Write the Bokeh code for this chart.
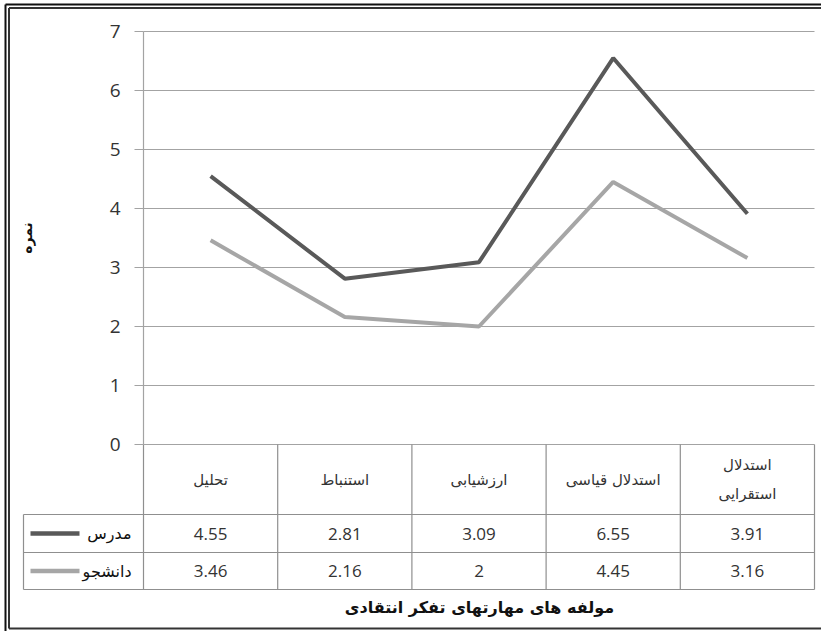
from bokeh.plotting import figure
from bokeh.models import LinearAxis, FixedTicker, Range1d
from bokeh.core.properties import value
from bokeh.embed import file_html
from bokeh.resources import INLINE

# ---- data ----
categories = ["تحلیل", "استنباط", "ارزشیابی", "استدلال قیاسی", "استدلال\nاستقرایی"]
series_names = ["مدرس", "دانشجو"]
teacher = [4.55, 2.81, 3.09, 6.55, 3.91]
student = [3.46, 2.16, 2, 4.45, 3.16]
teacher_labels = ["4.55", "2.81", "3.09", "6.55", "3.91"]
student_labels = ["3.46", "2.16", "2", "4.45", "3.16"]
y_ticks = [0, 1, 2, 3, 4, 5, 6, 7]
y_title = "نمره"
x_title = "مولفه های مهارتهای تفکر انتقادی"

# ---- styling / layout ----
DARK = "#595959"
LIGHT = "#a6a6a6"
GRID = "#a3a3a3"
TABLE = "#8f8f8f"
TEXT = "#333333"
AR_FONT = value("DejaVu Sans")
NUM_FONT = value("Open Sans")

W, H = 821, 631
PX = 59.0          # pixels per y unit
CW = 134.2         # pixels per category column
AX_X = 143         # pixel position of the y axis
ZERO_Y = 444       # pixel position of y = 0

n = len(categories)
xs = [i + 1 for i in range(n)]
x_left = xs[0] - 0.5
x_right = xs[-1] + 0.5

X0 = x_left - AX_X / CW
X1 = x_left + (W - AX_X) / CW
Y_TOP = ZERO_Y / PX
Y_BOT = -(H - ZERO_Y) / PX


def px_x(px):
    return X0 + px / CW


def px_y(py):
    return Y_TOP - py / PX


p = figure(width=W, height=H, x_range=Range1d(X0, X1), y_range=Range1d(Y_BOT, Y_TOP),
           output_backend="svg", toolbar_location=None,
           x_axis_location=None, y_axis_location=None, min_border=0)
p.outline_line_color = None
p.grid.visible = False
p.background_fill_color = "white"
p.border_fill_color = "white"

# horizontal grid lines
p.segment(x0=[x_left] * len(y_ticks), x1=[x_right] * len(y_ticks), y0=y_ticks, y1=y_ticks,
          line_color=GRID, line_width=1.2)

# y axis
yaxis = LinearAxis(fixed_location=x_left, bounds=(min(y_ticks), max(y_ticks)),
                   ticker=FixedTicker(ticks=y_ticks),
                   axis_line_color=GRID, axis_line_width=1.2,
                   major_tick_line_color=GRID, major_tick_line_width=1.2,
                   major_tick_out=9, major_tick_in=0,
                   minor_tick_line_color=None,
                   major_label_text_font="Open Sans", major_label_text_font_size="19px",
                   major_label_text_color=TEXT, major_label_standoff=14,
                   axis_label=y_title, axis_label_text_font="DejaVu Sans",
                   axis_label_text_font_size="14px", axis_label_text_font_style="bold",
                   axis_label_text_color="#111111", axis_label_standoff=72)
p.add_layout(yaxis, "left")

# ---- data table ----
y_h = px_y(514)
y_r1 = px_y(552)
y_r2 = px_y(589)
leg_left = px_x(23)

# vertical lines of the table (columns)
p.segment(x0=[x_left] + [x + 0.5 for x in xs], x1=[x_left] + [x + 0.5 for x in xs],
          y0=[0] * (n + 1), y1=[y_r2] * (n + 1), line_color=TABLE, line_width=1.2)
p.segment(x0=[leg_left], x1=[leg_left], y0=[y_h], y1=[y_r2], line_color=TABLE, line_width=1.2)
# horizontal table lines
p.segment(x0=[leg_left] * 3, x1=[x_right] * 3, y0=[y_h, y_r1, y_r2], y1=[y_h, y_r1, y_r2],
          line_color=TABLE, line_width=1.2)

# header labels
p.text(x=xs, y=[y_h / 2] * n, text=categories, text_font=AR_FONT, text_font_size="15px",
       text_align="center", text_baseline="middle", text_color=TEXT, text_line_height=1.65)

# values
p.text(x=xs, y=[(y_h + y_r1) / 2] * n, text=teacher_labels, text_font=NUM_FONT,
       text_font_size="17px", text_align="center", text_baseline="middle", text_color=TEXT)
p.text(x=xs, y=[(y_r1 + y_r2) / 2] * n, text=student_labels, text_font=NUM_FONT,
       text_font_size="17px", text_align="center", text_baseline="middle", text_color=TEXT)

# legend keys in the table
s0, s1 = px_x(30), px_x(79)
t_right = px_x(131)
row_c = [(y_h + y_r1) / 2, (y_r1 + y_r2) / 2]
for name, col, yc in zip(series_names, [DARK, LIGHT], row_c):
    p.line(x=[s0, s1], y=[yc, yc], line_color=col, line_width=4.5)
    p.text(x=[t_right], y=[yc], text=[name], text_font=AR_FONT, text_font_size="16px",
           text_align="right", text_baseline="middle", text_color="#111111")

# x title
p.text(x=[px_x(479)], y=[px_y(607)], text=[x_title], text_font=AR_FONT,
       text_font_size="16px", text_font_style="bold", text_align="center",
       text_baseline="middle", text_color="#111111")

# series lines
p.line(x=xs, y=teacher, line_color=DARK, line_width=4)
p.line(x=xs, y=student, line_color=LIGHT, line_width=4)

# double frame border (outer black, inner dark grey)
p.segment(x0=[px_x(5), px_x(5)], x1=[px_x(5), px_x(W + 5)],
          y0=[px_y(4), px_y(4)], y1=[px_y(H + 5), px_y(4)],
          line_color="#111111", line_width=2)
p.segment(x0=[px_x(8.5), px_x(8.5), px_x(8.5)], x1=[px_x(8.5), px_x(W + 5), px_x(W + 5)],
          y0=[px_y(7.5), px_y(7.5), px_y(628)], y1=[px_y(628), px_y(7.5), px_y(628)],
          line_color="#333333", line_width=2)

open("out.html", "w").write(file_html(p, INLINE))
